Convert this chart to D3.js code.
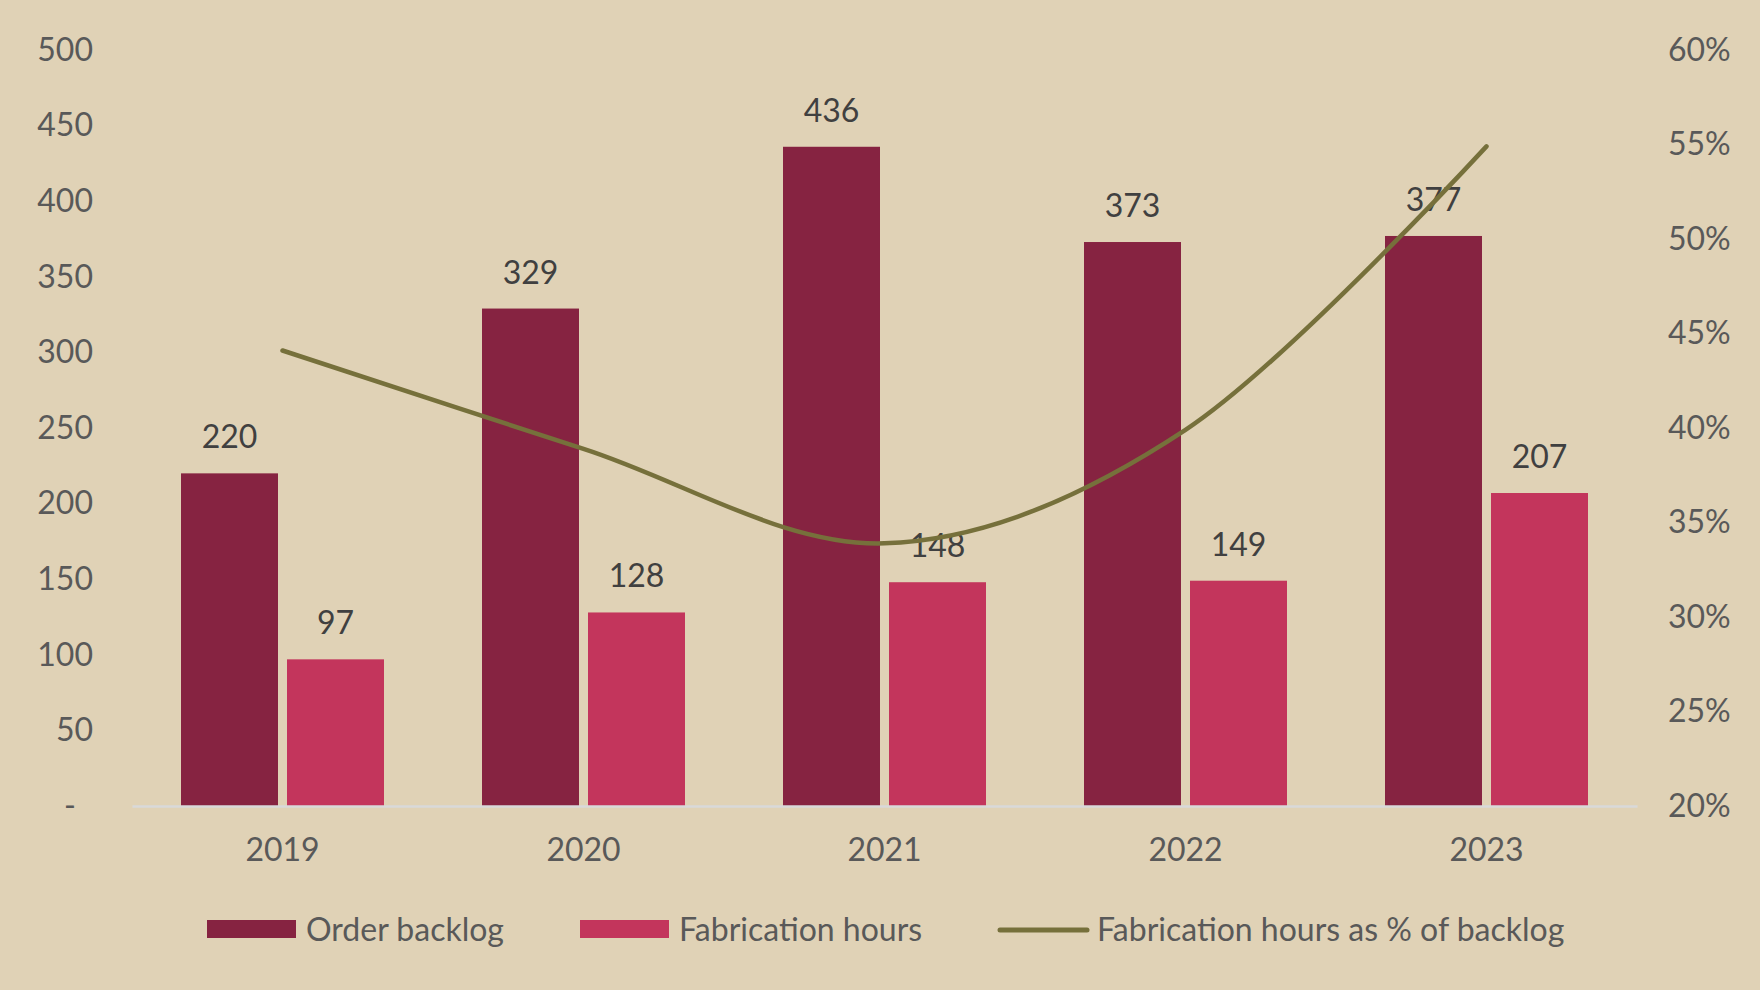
<!DOCTYPE html>
<html>
<head>
<meta charset="utf-8">
<script src="https://cdn.jsdelivr.net/npm/d3@7"></script>
<style>
  html, body { margin: 0; padding: 0; background: #E0D2B6; }
  svg { display: block; font-family: Lato, "Noto Sans", sans-serif; }
</style>
</head>
<body>
<div id="chart"></div>
<script>
var years = ['2019', '2020', '2021', '2022', '2023'];
var backlog = [220, 329, 436, 373, 377];
var fabHours = [97, 128, 148, 149, 207];
var fabPct = [44.1, 38.9, 33.9, 39.9, 54.9];
var leftTicks = [0, 50, 100, 150, 200, 250, 300, 350, 400, 450, 500];
var rightTicks = [20, 25, 30, 35, 40, 45, 50, 55, 60];
var seriesNames = ['Order backlog', 'Fabrication hours', 'Fabrication hours as % of backlog'];
var colors = ['#862341', '#C3355C', '#76703B'];

var w = 1760, h = 990;
var fs = 32;
var svg = d3.select('#chart').append('svg')
  .attr('width', w)
  .attr('height', h);

svg.append('rect').attr('width', w).attr('height', h).attr('fill', '#E0D2B6');

var x0 = d3.scaleBand().domain(years).range([132, 1637]);
var x1 = d3.scaleBand().domain([0, 1]).range([49, 252]).paddingInner(0.085);
var y = d3.scaleLinear().domain([0, 500]).range([806, 50]);
var y2 = d3.scaleLinear().domain([20, 60]).range([806, 50]);

// left axis
var la = svg.append('g')
  .attr('transform', 'translate(93,0)')
  .call(d3.axisLeft(y).tickValues(leftTicks).tickSize(0).tickPadding(0)
    .tickFormat(function(d) { return d === 0 ? '-' : d; }));
la.select('.domain').remove();
la.selectAll('text')
  .attr('font-size', fs).attr('fill', '#595959').attr('font-family', 'Lato')
  .attr('dx', function(d) { return d === 0 ? -17 : 0; });

// right axis
var ra = svg.append('g')
  .attr('transform', 'translate(1668,0)')
  .call(d3.axisRight(y2).tickValues(rightTicks).tickSize(0).tickPadding(0)
    .tickFormat(function(d) { return d + '%'; }));
ra.select('.domain').remove();
ra.selectAll('text')
  .attr('font-size', fs).attr('fill', '#595959').attr('font-family', 'Lato');

// bars
var groups = svg.append('g').selectAll('g')
  .data(years)
  .enter().append('g')
  .attr('transform', function(d) { return 'translate(' + x0(d) + ',0)'; });

[backlog, fabHours].forEach(function(vals, s) {
  groups.append('rect')
    .attr('x', x1(s))
    .attr('width', x1.bandwidth())
    .attr('y', function(d, i) { return y(vals[i]); })
    .attr('height', function(d, i) { return 806 - y(vals[i]); })
    .attr('fill', colors[s]);
});

// x axis
var xa = svg.append('g')
  .attr('transform', 'translate(0,806)')
  .call(d3.axisBottom(x0).tickSize(0).tickSizeOuter(0).tickPadding(32));
xa.select('.domain').attr('stroke', '#D9D9D9').attr('stroke-width', 2.5);
xa.selectAll('text')
  .attr('font-size', fs).attr('fill', '#595959').attr('font-family', 'Lato');

// line
var line = d3.line()
  .x(function(d, i) { return x0(years[i]) + x0.bandwidth() / 2; })
  .y(function(d) { return y2(d); })
  .curve(d3.curveCardinal.tension(0));

svg.append('path')
  .datum(fabPct)
  .attr('d', line)
  .attr('fill', 'none')
  .attr('stroke', colors[2])
  .attr('stroke-width', 4.5)
  .attr('stroke-linecap', 'round');

// data labels
[backlog, fabHours].forEach(function(vals, s) {
  groups.append('text')
    .attr('x', x1(s) + x1.bandwidth() / 2)
    .attr('y', function(d, i) { return y(vals[i]) - 25; })
    .attr('text-anchor', 'middle')
    .attr('font-size', fs)
    .attr('fill', '#404040')
    .text(function(d, i) { return vals[i]; });
});

// legend
var legendX = [207, 580, 998];
var legend = svg.append('g').selectAll('g')
  .data(seriesNames)
  .enter().append('g')
  .attr('transform', function(d, i) { return 'translate(' + legendX[i] + ',930)'; });

legend.each(function(d, i) {
  var g = d3.select(this);
  if (i < 2) {
    g.append('rect').attr('x', 0).attr('y', -10).attr('width', 89).attr('height', 18).attr('fill', colors[i]);
  } else {
    g.append('line').attr('x1', 2).attr('x2', 89).attr('y1', 0).attr('y2', 0)
      .attr('stroke', colors[i]).attr('stroke-width', 5).attr('stroke-linecap', 'round');
  }
  g.append('text')
    .attr('x', 99)
    .attr('dy', '0.35em')
    .attr('font-size', fs)
    .attr('fill', '#595959')
    .text(d);
});
</script>
</body>
</html>
